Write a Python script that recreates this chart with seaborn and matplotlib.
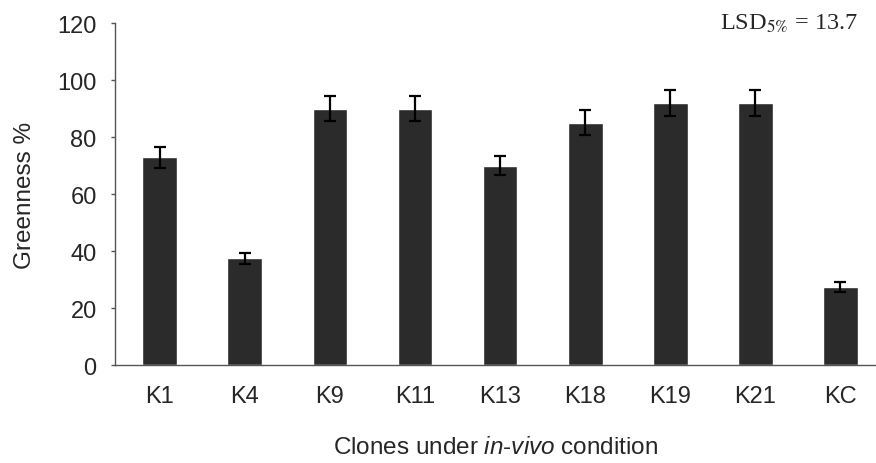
import matplotlib
matplotlib.use("Agg")
import matplotlib.pyplot as plt
import seaborn as sns
import pandas as pd

clones = ["K1", "K4", "K9", "K11", "K13", "K18", "K19", "K21", "KC"]
greenness = [73, 37.5, 90, 90, 70, 85, 92, 92, 27.5]
errors = [3.7, 2.0, 4.5, 4.5, 3.2, 4.4, 4.5, 4.5, 1.8]
y_ticks = [0, 20, 40, 60, 80, 100, 120]

sns.set_style("white")
plt.rcParams["font.family"] = ["Liberation Sans", "DejaVu Sans"]
plt.rcParams["mathtext.fontset"] = "custom"
plt.rcParams["mathtext.rm"] = "Liberation Sans"
plt.rcParams["mathtext.it"] = "Liberation Sans:italic"

df = pd.DataFrame({"clone": clones, "greenness": greenness})

fig = plt.figure(figsize=(8.76, 4.64), dpi=100)
ax = fig.add_axes([0.131, 0.211, 0.869, 0.737])

sns.barplot(data=df, x="clone", y="greenness", order=clones, color="#2b2b2b",
            saturation=1, width=0.41, errorbar=None, ax=ax)
ax.errorbar(clones, greenness, yerr=errors, fmt="none", ecolor="black",
            elinewidth=1.6, capsize=4, capthick=1.6)

ax.set_ylim(0, 120)
ax.set_yticks(y_ticks)
ax.set_xlim(-0.53, 8.42)

for side in ["top", "right"]:
    ax.spines[side].set_visible(False)
for side in ["left", "bottom"]:
    ax.spines[side].set_color("#555555")
    ax.spines[side].set_linewidth(1.0)

ax.tick_params(axis="y", left=True, length=3, width=1, color="#555555",
               labelsize=17, pad=10)
ax.tick_params(axis="x", bottom=False, labelsize=17, pad=11)

ax.set_ylabel("Greenness %", fontsize=17.5, labelpad=15)
ax.set_xlabel("Clones under $\\it{in}$-$\\it{vivo}$ condition", fontsize=17.5, labelpad=21)

fig.text(0.98, 0.948, "LSD$_{5\\%}$ = 13.7", ha="right", va="center",
         fontsize=17.5, family="Liberation Serif", math_fontfamily="stix")

fig.savefig("out.png", dpi=100)
